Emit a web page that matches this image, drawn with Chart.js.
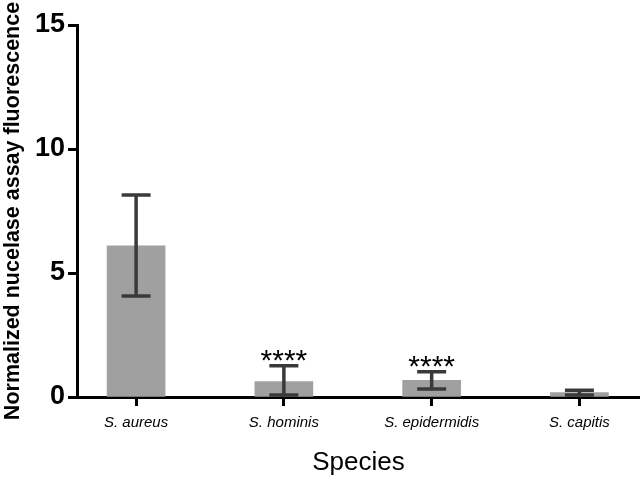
<!DOCTYPE html>
<html><head><meta charset="utf-8">
<script src="https://cdn.jsdelivr.net/npm/chart.js@4"></script>
<style>html,body{margin:0;padding:0;background:#fff}#w{width:640px;height:478px}</style>
</head><body><div id="w"><canvas id="c"></canvas></div>
<script>
const categories = ["S. aureus", "S. hominis", "S. epidermidis", "S. capitis"];
const means = [6.1, 0.62, 0.67, 0.18];
const errUpper = [8.15, 1.26, 1.02, 0.27];
const errLower = [4.07, 0.08, 0.32, 0.08];
const significance = ["", "****", "****", ""];
const yTicks = [0, 5, 10, 15];

const errorBarPlugin = {
  id: 'errbars',
  afterDatasetsDraw(chart) {
    const ctx = chart.ctx, xs = chart.scales.x, ys = chart.scales.y;
    ctx.save();
    ctx.strokeStyle = '#3a3a3a';
    ctx.lineWidth = 3.5;
    means.forEach((m, i) => {
      const x = xs.getPixelForValue(i);
      const yu = ys.getPixelForValue(errUpper[i]);
      const yl = ys.getPixelForValue(errLower[i]);
      ctx.beginPath();
      ctx.moveTo(x, yu); ctx.lineTo(x, yl);
      ctx.moveTo(x - 14.5, yu); ctx.lineTo(x + 14.5, yu);
      ctx.moveTo(x - 14.5, yl); ctx.lineTo(x + 14.5, yl);
      ctx.stroke();
      if (significance[i]) {
        ctx.fillStyle = '#000';
        ctx.font = '30px "Liberation Sans", Arial, sans-serif';
        ctx.textAlign = 'center';
        ctx.textBaseline = 'middle';
        ctx.fillText(significance[i], x, yu - 4);
      }
    });
    ctx.restore();
  }
};

new Chart(document.getElementById('c'), {
  type: 'bar',
  data: {
    datasets: [{
      data: means.map((v, i) => ({x: i, y: v})),
      backgroundColor: '#a0a0a0',
      borderWidth: 0,
      barThickness: 58
    }]
  },
  options: {
    responsive: true,
    maintainAspectRatio: false,
    animation: false,
    layout: {padding: {top: 25, right: 0, bottom: 0, left: 0}},
    plugins: {legend: {display: false}, tooltip: {enabled: false}},
    scales: {
      x: {
        type: 'linear',
        offset: false,
        min: -0.4, max: 3.41,
        afterBuildTicks(s) { s.ticks = categories.map((_, i) => ({value: i})); },
        afterFit(s) { s.height = 81; },
        ticks: {
          callback: (v) => categories[v],
          color: '#000',
          font: {family: '"Liberation Sans", Arial, sans-serif', size: 15, style: 'italic'},
          padding: 8,
          maxRotation: 0, autoSkip: false
        },
        grid: {offset: false, drawOnChartArea: false, drawTicks: true, tickLength: 9, tickColor: '#000', tickWidth: 3},
        border: {display: true, color: '#000', width: 3},
        title: {display: true, text: 'Species', color: '#000',
          font: {family: '"Liberation Sans", Arial, sans-serif', size: 26}, padding: {top: 0, bottom: 0}}
      },
      y: {
        min: 0, max: 15,
        afterBuildTicks(s) { s.ticks = yTicks.map(v => ({value: v})); },
        afterFit(s) { s.width = 77; },
        ticks: {
          color: '#000',
          font: {family: '"Liberation Sans", Arial, sans-serif', size: 27, weight: 'bold'},
          padding: 3
        },
        grid: {drawOnChartArea: false, drawTicks: true, tickLength: 9, tickColor: '#000', tickWidth: 3},
        border: {display: true, color: '#000', width: 3},
        title: {display: true, text: 'Normalized nucelase assay fluorescence', color: '#000',
          font: {family: '"Liberation Sans", Arial, sans-serif', size: 21.5, weight: 'bold'}, padding: 0}
      }
    }
  },
  plugins: [errorBarPlugin]
});
</script></body></html>
